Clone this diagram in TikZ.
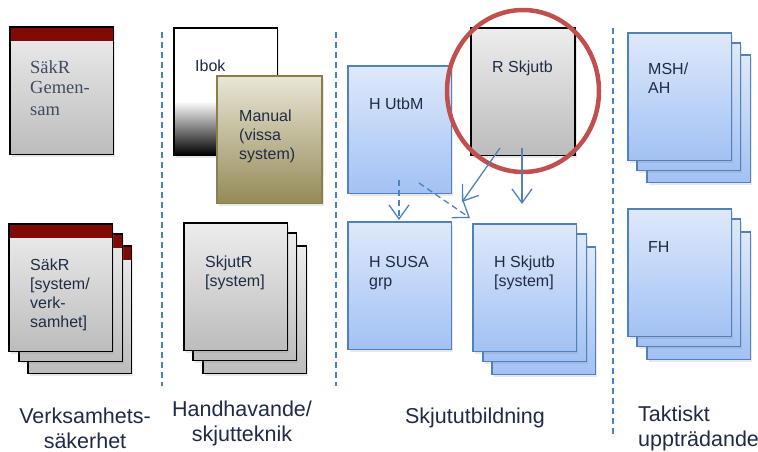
\documentclass[tikz,border=0pt]{standalone}
\usepackage{fontspec}
\setmainfont{Liberation Sans}
\newfontfamily\serffont{Liberation Serif}
\usetikzlibrary{arrows.meta,shadows,shapes.geometric}
\definecolor{ink}{HTML}{1F2B45}
\definecolor{blueline}{HTML}{4F81BD}
\definecolor{bluetop}{HTML}{DEE9FB}
\definecolor{bluebot}{HTML}{A2C1F3}
\definecolor{graytop}{HTML}{EDEDED}
\definecolor{graybot}{HTML}{BCBCBC}
\definecolor{darkred}{HTML}{800A05}
\definecolor{ringred}{HTML}{C0504D}
\definecolor{olivetop}{HTML}{E9E6D6}
\definecolor{olivebot}{HTML}{948A56}
\definecolor{oliveline}{HTML}{8A7E4C}
\tikzset{
  pg/.style={anchor=north west, inner sep=0pt, outer sep=0pt, minimum width=103.5pt, minimum height=127.5pt,
    line width=1.4pt, drop shadow={shadow xshift=1.5pt, shadow yshift=-2.5pt, opacity=0.18}},
  graypg/.style={pg, draw=black, top color=graytop, bottom color=graybot},
  bluepg/.style={pg, draw=blueline, top color=bluetop, bottom color=bluebot},
  redtop/.style={graypg, path picture={\fill[darkred] (path picture bounding box.north west) rectangle ([yshift=-14pt]path picture bounding box.north east);}},
  boxtxt/.style={anchor=base west, align=left, inner sep=0pt, text=ink, font=\fontsize{16}{19.2}\selectfont},
  lab/.style={anchor=base, align=center, inner sep=0pt, text=ink, font=\fontsize{21.5}{25.5}\selectfont},
  divider/.style={blueline, line width=1.4pt, dash pattern=on 6pt off 4pt},
  conn/.style={blueline, line width=1.3pt, -{Straight Barb[length=14pt,width=20pt]}},
  dconn/.style={conn, dash pattern=on 6pt off 4pt}
}
\begin{document}
\begin{tikzpicture}[x=1pt,y=-1pt]
\useasboundingbox (0,0) rectangle (758,452);
% dividers
\coordinate (d1t) at (162,32); \coordinate (d1b) at (162,386);
\coordinate (d2t) at (336,32); \coordinate (d2b) at (336,386);
\coordinate (d3t) at (613,28); \coordinate (d3b) at (613,436);
\draw[divider] (d1t) -- (d1b);
\draw[divider] (d2t) -- (d2b);
\draw[divider] (d3t) -- (d3b);
% column 1
\node[redtop] (sg) at (10,27) {};
\node[anchor=base west, align=left, inner sep=0pt, text=ink!85, font=\serffont\fontsize{18.5}{21}\selectfont] (sgt) at (30,115) {SäkR\\Gemen-\\sam};
\node[redtop] (ss3) at (28,246) {};
\node[redtop] (ss2) at (19,234) {};
\node[redtop] (ss1) at (9,224) {};
\node[boxtxt] (sst) at (30,327.6) {SäkR\\{[system/}\\verk-\\samhet]};
% column 2
\node[pg, draw=black, fill=white] (ib) at (174,28) {};
\node[anchor=north west, inner sep=0pt, minimum width=102pt, minimum height=54pt, top color=white, bottom color=black] (ibg) at (174.7,101) {};
\draw[black, line width=1.4pt] (ib.north west) rectangle (ib.south east);
\node[boxtxt] (ibt) at (195,72) {Ibok};
\node[pg, minimum width=105pt, draw=oliveline, top color=olivetop, bottom color=olivebot] (man) at (217,76) {};
\node[boxtxt] (mant) at (239,159.4) {Manual\\(vissa\\system)};
\node[graypg] (sk3) at (203,246) {};
\node[graypg] (sk2) at (193,233) {};
\node[graypg] (sk1) at (184,223) {};
\node[boxtxt] (skt) at (205,286.2) {SkjutR\\{[system]}};
% column 3
\node[bluepg] (utbm) at (348,66) {};
\node[boxtxt] (utbmt) at (369,110) {H UtbM};
\node[graypg, minimum width=104pt] (rsk) at (471,28) {};
\node[boxtxt] (rskt) at (492,73) {R Skjutb};
\node[bluepg] (susa) at (348,222) {};
\node[boxtxt] (susat) at (369,286.2) {H SUSA\\grp};
\node[bluepg] (hs3) at (492,247) {};
\node[bluepg] (hs2) at (483,234) {};
\node[bluepg] (hs1) at (473,224) {};
\node[boxtxt] (hst) at (494,286.2) {H Skjutb\\{[system]}};
\node[draw=ringred, line width=4.5pt, ellipse, inner sep=0pt, minimum width=152pt, minimum height=162pt] (ring) at (523,91) {};
% connectors
\coordinate (a1s) at (500,148); \coordinate (a1e) at (462,202);
\coordinate (a2s) at (522,148); \coordinate (a2e) at (522,204);
\coordinate (a3s) at (399,180); \coordinate (a3e) at (399,220);
\coordinate (a4s) at (419,183); \coordinate (a4e) at (470,218);
\draw[conn] (a1s) -- (a1e);
\draw[conn] (a2s) -- (a2e);
\draw[dconn] (a3s) -- (a3e);
\draw[dconn] (a4s) -- (a4e);
% column 4
\node[bluepg] (ms3) at (647,55) {};
\node[bluepg] (ms2) at (637,43) {};
\node[bluepg] (ms1) at (628,33) {};
\node[boxtxt] (mst) at (648,93.2) {MSH/\\AH};
\node[bluepg] (fh3) at (647,232) {};
\node[bluepg] (fh2) at (637,219) {};
\node[bluepg] (fh1) at (628,209) {};
\node[boxtxt] (fht) at (648,252) {FH};
% labels
\node[lab] (l1) at (85,448.5) {Verksamhets-\\säkerhet};
\node[lab] (l2) at (242,441.5) {Handhavande/\\skjutteknik};
\node[lab] (l3) at (475,423) {Skjututbildning};
\node[lab, anchor=base west, align=left] (l4) at (638,446.5) {Taktiskt\\uppträdande};
\end{tikzpicture}
\end{document}
